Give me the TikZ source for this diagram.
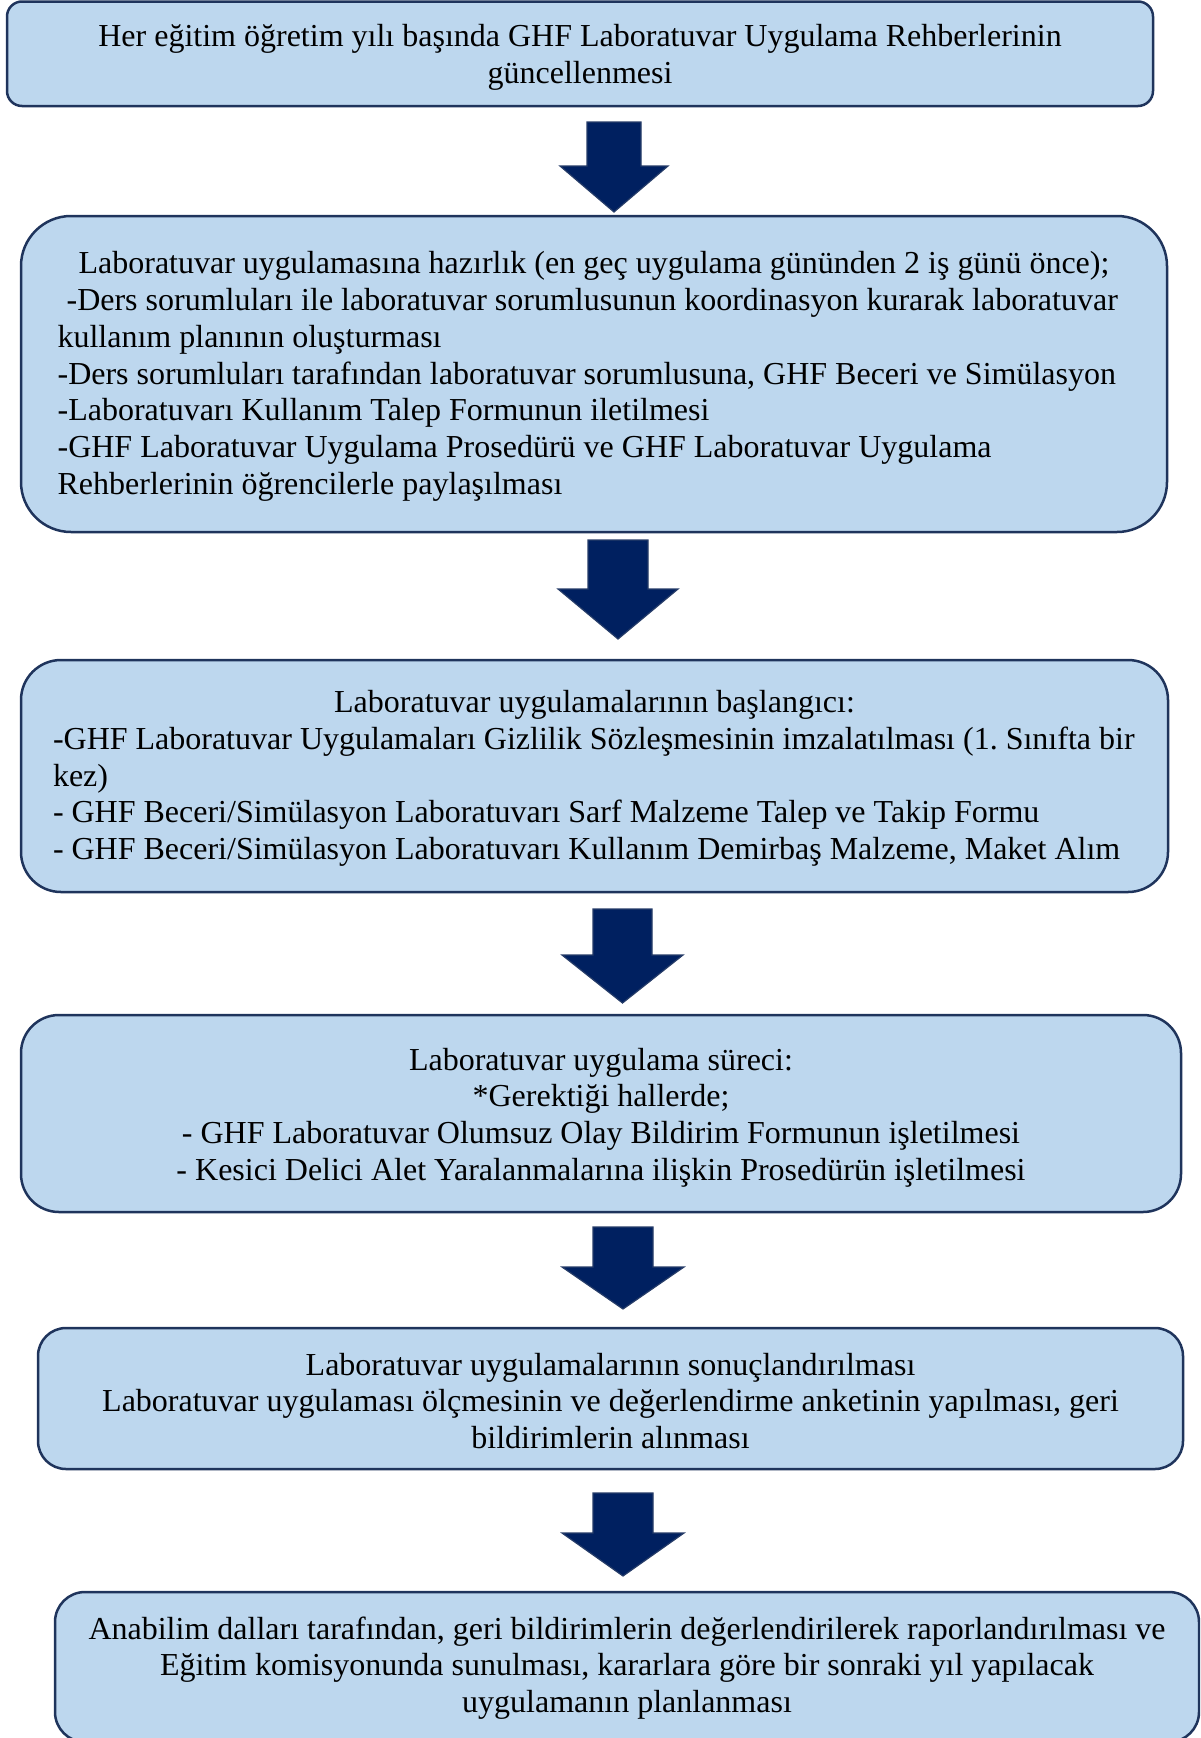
\documentclass[tikz,border=0pt]{standalone}
\usepackage{fontspec}
\setmainfont{Liberation Serif}
\frenchspacing
\definecolor{boxfill}{RGB}{189,215,238}
\definecolor{boxline}{RGB}{31,52,92}
\definecolor{arrfill}{RGB}{0,32,96}
\definecolor{arrline}{RGB}{38,60,104}
\newcommand\blockarrow[6]{% cx, shaft half, head half, top, wing, tip
  \draw[barrow] (#1-#2,#4) -- (#1+#2,#4) -- (#1+#2,#5) -- (#1+#3,#5) -- (#1,#6)
    -- (#1-#3,#5) -- (#1-#2,#5) -- cycle;}
\newcommand\tpad[1]{\noalign{\vskip #1}}
\begin{document}
\begin{tikzpicture}[x=1pt,y=-1pt,
  box/.style={draw=boxline, fill=boxfill, line width=2.5pt, inner sep=0pt,
    font=\fontsize{32}{36.8}\selectfont},
  barrow/.style={fill=arrfill, draw=arrline, line width=1.2pt, line join=miter}]
\useasboundingbox (0,0) rectangle (1200,1738);
\clip (0,0) rectangle (1200,1738);

\node[box, rounded corners=15pt, minimum width=1146pt, minimum height=104.5pt] (b1) at (580,53.75)
  {\begin{tabular}{@{}c@{}}\tpad{7.8pt}
   Her eğitim öğretim yılı başında GHF Laboratuvar Uygulama Rehberlerinin\\
   güncellenmesi
   \end{tabular}};

\node[box, rounded corners=50pt, minimum width=1146pt, minimum height=316pt] (b2) at (594,374)
  {\begin{tabular}{@{}p{1072.8pt}@{}}\tpad{5.6pt}
   \makebox[\linewidth]{Laboratuvar uygulamasına hazırlık (en geç uygulama gününden 2 iş günü önce);}\\
   \hspace*{9pt}-Ders sorumluları ile laboratuvar sorumlusunun koordinasyon kurarak laboratuvar\\
   kullanım planının oluşturması\\
   -Ders sorumluları tarafından laboratuvar sorumlusuna, GHF Beceri ve Simülasyon\\
   -Laboratuvarı Kullanım Talep Formunun iletilmesi\\
   -GHF Laboratuvar Uygulama Prosedürü ve GHF Laboratuvar Uygulama\\
   Rehberlerinin öğrencilerle paylaşılması
   \end{tabular}};

\node[box, rounded corners=40pt, minimum width=1147pt, minimum height=232pt] (b3) at (594.5,776)
  {\begin{tabular}{@{}p{1083pt}@{}}\tpad{5.6pt}
   \makebox[\linewidth]{Laboratuvar uygulamalarının başlangıcı:}\\
   \mbox{-GHF Laboratuvar Uygulamaları Gizlilik Sözleşmesinin imzalatılması (1. Sınıfta bir}\\
   kez)\\
   - GHF Beceri/Simülasyon Laboratuvarı Sarf Malzeme Talep ve Takip Formu\\
   \mbox{- GHF Beceri/Simülasyon Laboratuvarı Kullanım Demirbaş Malzeme, Maket Alım}
   \end{tabular}};

\node[box, rounded corners=38pt, minimum width=1160pt, minimum height=197pt] (b4) at (601,1113.5)
  {\begin{tabular}{@{}c@{}}\tpad{8.8pt}
   Laboratuvar uygulama süreci:\\
   {*}Gerektiği hallerde;\\
   - GHF Laboratuvar Olumsuz Olay Bildirim Formunun işletilmesi\\
   - Kesici Delici Alet Yaralanmalarına ilişkin Prosedürün işletilmesi
   \end{tabular}};

\node[box, rounded corners=28pt, minimum width=1145pt, minimum height=141pt] (b5) at (610.5,1398.5)
  {\begin{tabular}{@{}c@{}}\tpad{12pt}
   Laboratuvar uygulamalarının sonuçlandırılması\\
   Laboratuvar uygulaması ölçmesinin ve değerlendirme anketinin yapılması, geri\\
   bildirimlerin alınması
   \end{tabular}};

\node[box, rounded corners=30pt, minimum width=1144pt, minimum height=150pt] (b6) at (627,1667)
  {\begin{tabular}{@{}c@{}}\tpad{3pt}
   Anabilim dalları tarafından, geri bildirimlerin değerlendirilerek raporlandırılması ve\\
   Eğitim komisyonunda sunulması, kararlara göre bir sonraki yıl yapılacak\\
   uygulamanın planlanması
   \end{tabular}};

\blockarrow{614}{27}{54}{122}{166}{212}
\blockarrow{618}{30}{60}{540}{589}{639}
\blockarrow{622.5}{29.5}{60.5}{909}{955}{1003}
\blockarrow{623}{30}{61}{1227}{1267}{1309}
\blockarrow{623}{30}{61}{1493}{1533}{1576}
\end{tikzpicture}
\end{document}
